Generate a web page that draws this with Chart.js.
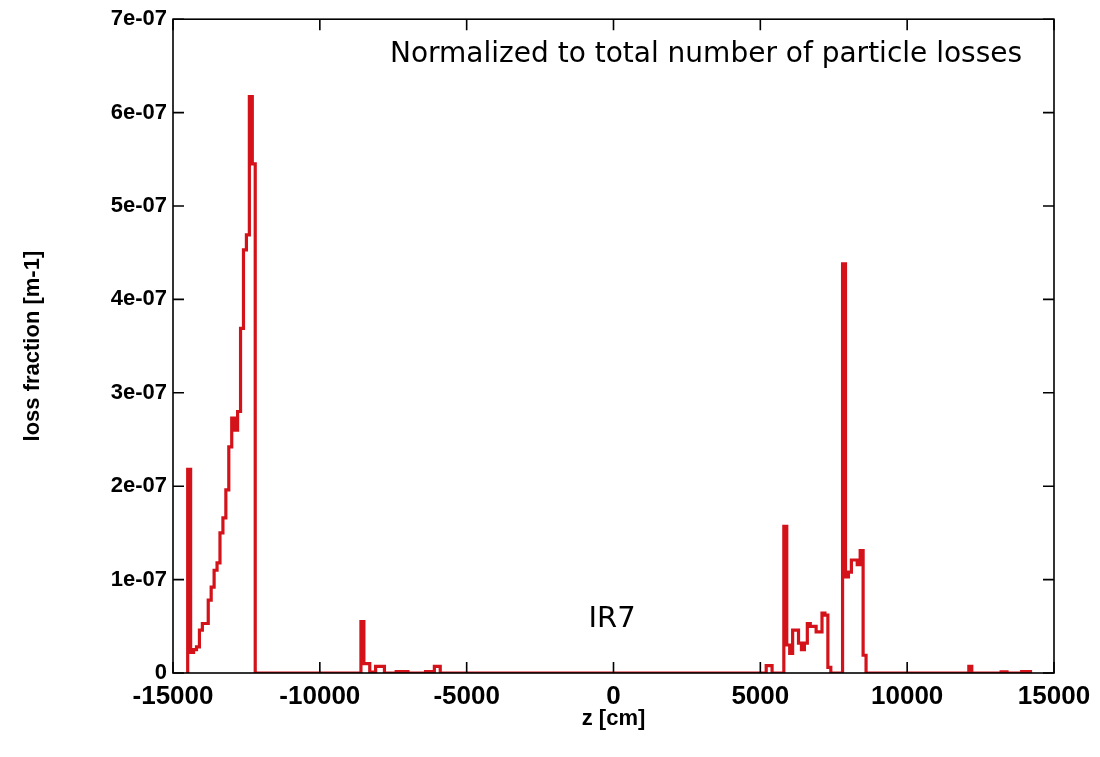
<!DOCTYPE html>
<html>
<head>
<meta charset="utf-8">
<script src="https://cdn.jsdelivr.net/npm/chart.js@4.4.1/dist/chart.umd.min.js"></script>
<style>
  html, body { margin: 0; padding: 0; background: #fff; }
  #wrap { width: 1100px; height: 757px; }
</style>
</head>
<body>
<div id="wrap"><canvas id="myChart" width="1100" height="757"></canvas></div>
<script>
window.addEventListener('load', function () {

    const unit = 1e-7;
    const binWidth = 100;

    const leftStart = -14500;
    const leftLoss = [2.18, 0.22, 0.25, 0.28, 0.46, 0.53, 0.53, 0.78, 0.92, 1.10, 1.18, 1.50,
        1.66, 1.96, 2.42, 2.73, 2.60, 2.80, 3.69, 4.53, 4.69, 6.17, 5.45];

    const midStart = -8600;
    const midLoss = [0.55, 0.10, 0.10, 0.01, 0.01, 0.07, 0.07, 0.07, 0, 0, 0, 0,
        0.015, 0.015, 0.015, 0.015, 0, 0, 0, 0, 0, 0, 0.015, 0.015, 0.015, 0.07, 0.07];

    const rightStart = 5200;
    const rightLoss = [0.08, 0.08, 0, 0, 0, 0, 1.57, 0.30, 0.21, 0.46, 0.46, 0.32, 0.25,
        0.32, 0.53, 0.50, 0.50, 0.44, 0.44, 0.64, 0.62, 0.06, 0, 0, 0, 0, 4.38, 1.03, 1.08,
        1.21, 1.21, 1.16, 1.31, 0.19];

    const farStart = 12100;
    const farLoss = [0.07, 0, 0, 0, 0, 0, 0, 0, 0, 0, 0, 0.012, 0.012, 0, 0, 0, 0, 0,
        0.015, 0.015, 0.015];

    const xTicks = [-15000, -10000, -5000, 0, 5000, 10000, 15000];
    const yTicks = [0, 1e-7, 2e-7, 3e-7, 4e-7, 5e-7, 6e-7, 7e-7];

    const points = [];
    function addCluster(start, vals) {
        points.push({ x: start, y: 0 });
        vals.forEach(function (v, i) {
            points.push({ x: start + i * binWidth, y: v * unit });
        });
        points.push({ x: start + vals.length * binWidth, y: 0 });
    }
    addCluster(leftStart, leftLoss);
    addCluster(midStart, midLoss);
    addCluster(rightStart, rightLoss);
    addCluster(farStart, farLoss);

    function expLabel(v) {
        if (Math.abs(v) < 1e-12) return '0';
        const parts = v.toExponential(0).split('e');
        const e = parseInt(parts[1], 10);
        const pad = String(Math.abs(e)).padStart(2, '0');
        return parts[0] + 'e' + (e < 0 ? '-' : '+') + pad;
    }

    // gnuplot style frame with inward ticks on all four sides, drawn over the data
    const framePlugin = {
        id: 'frame',
        afterDatasetsDraw(chart) {
            const { ctx, chartArea: a, scales } = chart;
            ctx.save();
            ctx.strokeStyle = '#000';
            ctx.lineWidth = 1.6;
            ctx.strokeRect(a.left, a.top, a.right - a.left, a.bottom - a.top);
            const len = 11;
            ctx.beginPath();
            xTicks.forEach(function (t) {
                const px = scales.x.getPixelForValue(t);
                ctx.moveTo(px, a.bottom); ctx.lineTo(px, a.bottom - len);
                ctx.moveTo(px, a.top); ctx.lineTo(px, a.top + len);
            });
            yTicks.forEach(function (t) {
                const py = scales.y.getPixelForValue(t);
                ctx.moveTo(a.left, py); ctx.lineTo(a.left + len, py);
                ctx.moveTo(a.right, py); ctx.lineTo(a.right - len, py);
            });
            ctx.stroke();

            ctx.fillStyle = '#000';
            ctx.textBaseline = 'alphabetic';
            ctx.font = '28px "DejaVu Sans"';
            ctx.textAlign = 'left';
            ctx.fillText('Normalized to total number of particle losses', 390, 62, 634);
            ctx.textAlign = 'center';
            ctx.font = '29px "DejaVu Sans"';
            ctx.fillText('IR7', 612, 627);
            ctx.restore();
        }
    };

    const xTickFont = { family: '"Liberation Sans", Arial, sans-serif', size: 26, weight: 'bold' };
    const yTickFont = { family: '"Liberation Sans", Arial, sans-serif', size: 22, weight: 'bold' };
    const titleFont = { family: '"Liberation Sans", Arial, sans-serif', size: 22, weight: 'bold' };

    var ctx = document.getElementById('myChart').getContext('2d');
    var chart = new Chart(ctx, {
        type: 'line',
        data: {
            datasets: [{
                data: points,
                borderColor: '#d4121a',
                borderWidth: 3.2,
                stepped: true,
                pointRadius: 0,
                fill: false,
                tension: 0
            }]
        },
        options: {
            responsive: false,
            animation: false,
            layout: { padding: { top: 19, right: 46, left: 0, bottom: 0 } },
            plugins: { legend: { display: false }, tooltip: { enabled: false } },
            scales: {
                x: {
                    type: 'linear',
                    min: -15000,
                    max: 15000,
                    afterBuildTicks: function (s) { s.ticks = xTicks.map(v => ({ value: v })); },
                    afterFit: function (s) { s.height = 84; },
                    grid: { display: false, drawTicks: false },
                    border: { display: false },
                    ticks: { color: '#000', font: xTickFont, padding: 8, maxRotation: 0,
                        callback: function (v) { return String(v); } },
                    title: { display: true, text: 'z [cm]', color: '#000', font: titleFont,
                        padding: { top: 0, bottom: 25 } }
                },
                y: {
                    min: 0,
                    max: 7e-7,
                    afterBuildTicks: function (s) { s.ticks = yTicks.map(v => ({ value: v })); },
                    afterFit: function (s) { s.width = 173; },
                    grid: { display: false, drawTicks: false },
                    border: { display: false },
                    ticks: { color: '#000', font: yTickFont, padding: 6, callback: expLabel },
                    title: { display: true, text: 'loss fraction [m-1]', color: '#000', font: titleFont,
                        padding: { top: 20, bottom: 0 } }
                }
            }
        },
        plugins: [framePlugin]
    });
});
</script>
</body>
</html>
